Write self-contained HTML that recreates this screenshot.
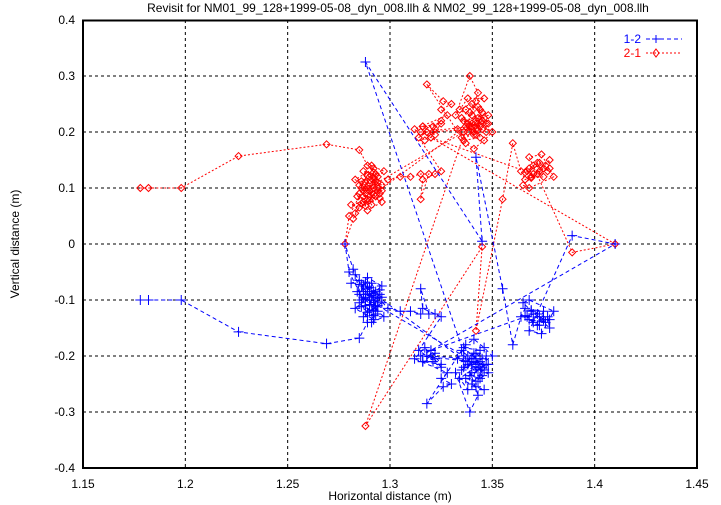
<!DOCTYPE html>
<html><head><meta charset="utf-8">
<style>
body{margin:0;background:#fff;}
svg{display:block;font-family:"Liberation Sans",sans-serif;}
</style></head>
<body>
<svg id="chart" width="721" height="505" viewBox="0 0 721 505">
<text x="398" y="12" text-anchor="middle" font-size="12">Revisit for NM01_99_128+1999-05-08_dyn_008.llh &amp; NM02_99_128+1999-05-08_dyn_008.llh</text>
<text x="390" y="500" text-anchor="middle" font-size="12">Horizontal distance (m)</text>
<text transform="translate(19,244) rotate(-90)" text-anchor="middle" font-size="12">Vertical distance (m)</text>
<g id="grid"></g>
<g id="series21"></g>
<g id="series12"></g>
<rect x="83" y="20.5" width="614" height="447.5" fill="none" stroke="#000" stroke-width="2"/>
<g>
<text x="641" y="43" text-anchor="end" font-size="12" fill="#0000ff">1-2</text>
<line x1="646" y1="39" x2="682" y2="39" stroke="#0000ff" stroke-dasharray="4,3"/>
<path d="M656,35v8M652,39h8" stroke="#0000ff"/>
<text x="641" y="57" text-anchor="end" font-size="12" fill="#ff0000">2-1</text>
<line x1="646" y1="53" x2="682" y2="53" stroke="#ff0000" stroke-dasharray="2,2"/>
<path d="M656,49l3,4l-3,4l-3,-4z" fill="none" stroke="#ff0000"/>
</g>
</svg>
<script>
const xTicks=[1.15,1.2,1.25,1.3,1.35,1.4,1.45];
const xTickLabels=["1.15","1.2","1.25","1.3","1.35","1.4","1.45"];
const yTicks=[0.4,0.3,0.2,0.1,0,-0.1,-0.2,-0.3,-0.4];
const yTickLabels=["0.4","0.3","0.2","0.1","0","-0.1","-0.2","-0.3","-0.4"];
const x12=[1.178,1.182,1.198,1.226,1.269,1.285,1.289,1.283,1.285,1.281,1.287,1.284,1.289,1.291,1.293,1.290,1.286,1.292,1.295,1.288,1.294,1.29,1.296,1.287,1.293,1.291,1.297,1.285,1.289,1.296,1.283,1.292,1.280,1.278,1.282,1.288,1.294,1.299,1.305,1.310,1.315,1.319,1.315,1.316,1.322,1.325,1.314,1.318,1.322,1.316,1.321,1.325,1.317,1.312,1.328,1.325,1.33,1.326,1.318,1.335,1.338,1.342,1.345,1.34,1.336,1.343,1.347,1.339,1.344,1.348,1.333,1.337,1.341,1.346,1.35,1.334,1.342,1.346,1.338,1.332,1.339,1.343,1.288,1.345,1.342,1.355,1.36,1.364,1.366,1.369,1.372,1.375,1.37,1.367,1.373,1.377,1.378,1.365,1.368,1.38,1.374,1.368,1.389,1.41,1.32,1.315,1.34,1.345,1.341,1.337,
1.286,1.29,1.292,1.288,1.294,1.29,1.286,1.292,1.295,1.287,1.291,1.293,1.289,1.285,1.296,1.288,1.292,1.29,1.294,1.287,
1.336,1.34,1.344,1.338,1.342,1.346,1.34,1.337,1.343,1.347,1.335,1.341,1.345,1.339,1.343,1.348,1.34,1.344,1.336,1.342,
1.318,1.322,1.316,1.325,1.32,
1.37,1.373,1.376,1.368,1.372,1.375,1.369,1.378,1.366];
const y12=[-0.1,-0.1,-0.1,-0.157,-0.178,-0.168,-0.14,-0.055,-0.065,-0.07,-0.075,-0.085,-0.08,-0.07,-0.085,-0.095,-0.1,-0.1,-0.09,-0.11,-0.11,-0.12,-0.105,-0.13,-0.125,-0.14,-0.13,-0.09,-0.06,-0.075,-0.115,-0.135,-0.05,0,-0.045,-0.09,-0.095,-0.115,-0.12,-0.12,-0.125,-0.125,-0.08,-0.115,-0.125,-0.13,-0.19,-0.2,-0.195,-0.21,-0.21,-0.22,-0.185,-0.205,-0.23,-0.24,-0.25,-0.255,-0.285,-0.19,-0.2,-0.195,-0.205,-0.215,-0.22,-0.225,-0.215,-0.235,-0.24,-0.23,-0.205,-0.18,-0.17,-0.185,-0.2,-0.24,-0.255,-0.26,-0.26,-0.23,-0.3,-0.27,0.325,0.005,0.155,-0.08,-0.18,-0.13,-0.115,-0.12,-0.125,-0.135,-0.14,-0.13,-0.145,-0.13,-0.15,-0.105,-0.1,-0.12,-0.16,-0.155,0.015,0,-0.19,-0.2,-0.21,-0.22,-0.2,-0.21,
-0.072,-0.078,-0.088,-0.098,-0.102,-0.108,-0.112,-0.118,-0.082,-0.085,-0.092,-0.112,-0.122,-0.105,-0.095,-0.068,-0.128,-0.085,-0.12,-0.095,
-0.2,-0.205,-0.21,-0.215,-0.22,-0.225,-0.23,-0.24,-0.245,-0.2,-0.225,-0.195,-0.235,-0.21,-0.215,-0.215,-0.25,-0.19,-0.185,-0.205,
-0.2,-0.205,-0.21,-0.215,-0.19,
-0.125,-0.13,-0.14,-0.135,-0.145,-0.12,-0.118,-0.135,-0.128];
const x21=[1.178,1.182,1.198,1.226,1.269,1.285,1.289,1.283,1.285,1.281,1.287,1.284,1.289,1.291,1.293,1.290,1.286,1.292,1.295,1.288,1.294,1.29,1.296,1.287,1.293,1.291,1.297,1.285,1.289,1.296,1.283,1.292,1.280,1.278,1.282,1.288,1.294,1.299,1.305,1.310,1.315,1.319,1.315,1.316,1.322,1.325,1.314,1.318,1.322,1.316,1.321,1.325,1.317,1.312,1.328,1.325,1.33,1.326,1.318,1.335,1.338,1.342,1.345,1.34,1.336,1.343,1.347,1.339,1.344,1.348,1.333,1.337,1.341,1.346,1.35,1.334,1.342,1.346,1.338,1.332,1.339,1.343,1.288,1.345,1.342,1.355,1.36,1.364,1.366,1.369,1.372,1.375,1.37,1.367,1.373,1.377,1.378,1.365,1.368,1.38,1.374,1.368,1.389,1.41,1.32,1.315,1.34,1.345,1.341,1.337,
1.286,1.29,1.292,1.288,1.294,1.29,1.286,1.292,1.295,1.287,1.291,1.293,1.289,1.285,1.296,1.288,1.292,1.29,1.294,1.287,
1.336,1.34,1.344,1.338,1.342,1.346,1.34,1.337,1.343,1.347,1.335,1.341,1.345,1.339,1.343,1.348,1.34,1.344,1.336,1.342,
1.318,1.322,1.316,1.325,1.32,
1.37,1.373,1.376,1.368,1.372,1.375,1.369,1.378,1.366];
const y21=[0.1,0.1,0.1,0.157,0.178,0.168,0.14,0.055,0.065,0.07,0.075,0.085,0.08,0.07,0.085,0.095,0.1,0.1,0.09,0.11,0.11,0.12,0.105,0.13,0.125,0.14,0.13,0.09,0.06,0.075,0.115,0.135,0.05,0,0.045,0.09,0.095,0.115,0.12,0.12,0.125,0.125,0.08,0.115,0.125,0.13,0.19,0.2,0.195,0.21,0.21,0.22,0.185,0.205,0.23,0.24,0.25,0.255,0.285,0.19,0.2,0.195,0.205,0.215,0.22,0.225,0.215,0.235,0.24,0.23,0.205,0.18,0.17,0.185,0.2,0.24,0.255,0.26,0.26,0.23,0.3,0.27,-0.325,-0.005,-0.155,0.08,0.18,0.13,0.115,0.12,0.125,0.135,0.14,0.13,0.145,0.13,0.15,0.105,0.1,0.12,0.16,0.155,-0.015,0,0.19,0.2,0.21,0.22,0.2,0.21,
0.072,0.078,0.088,0.098,0.102,0.108,0.112,0.118,0.082,0.085,0.092,0.112,0.122,0.105,0.095,0.068,0.128,0.085,0.12,0.095,
0.2,0.205,0.21,0.215,0.22,0.225,0.23,0.24,0.245,0.2,0.225,0.195,0.235,0.21,0.215,0.215,0.25,0.19,0.185,0.205,
0.2,0.205,0.21,0.215,0.19,
0.125,0.13,0.14,0.135,0.145,0.12,0.118,0.135,0.128];

const NS='http://www.w3.org/2000/svg';
const L=83,R=697,T=20,B=468;
function sx(v){return L+(v-1.15)/(1.45-1.15)*(R-L);}
function sy(v){return B-(v+0.4)/0.8*(B-T);}
function mk(tag,attrs,parent){const e=document.createElementNS(NS,tag);for(const k in attrs)e.setAttribute(k,attrs[k]);parent.appendChild(e);return e;}
const grid=document.getElementById('grid');
const svg=document.getElementById('chart');
xTicks.forEach((t,i)=>{
  const x=sx(t);
  if(i>0&&i<xTicks.length-1){
    const g=mk('line',{x1:x,y1:T,x2:x,y2:B,stroke:'#000','stroke-dasharray':'3,3','stroke-width':1},grid);
    
    
  }
  const tx=mk('text',{x:x,y:488,'text-anchor':'middle','font-size':12},svg);
  tx.textContent=xTickLabels[i];
  
  
});
yTicks.forEach((t,i)=>{
  const y=sy(t);
  if(i>0&&i<yTicks.length-1){
    const g=mk('line',{x1:L,y1:y,x2:R,y2:y,stroke:'#000','stroke-dasharray':'3,3','stroke-width':1},grid);
    
    
  }
  const tx=mk('text',{x:75,y:y+4,'text-anchor':'end','font-size':12},svg);
  tx.textContent=yTickLabels[i];
  
  
});
function drawSeries(xs,ys,gid,color,dash,marker,name){
  const g=document.getElementById(gid);
  
  
  const pts=xs.map((v,i)=>sx(v).toFixed(1)+','+sy(ys[i]).toFixed(1)).join(' ');
  const pl=mk('polyline',{points:pts,fill:'none',stroke:color,'stroke-width':1,'stroke-dasharray':dash},g);
  
  
  xs.forEach((v,i)=>{
    const x=sx(v),y=sy(ys[i]);
    let d;
    if(marker==='plus') d=`M${x-5},${y}h10M${x},${y-5}v10`;
    else d=`M${x},${y-3.5}l3.5,3.5l-3.5,3.5l-3.5,-3.5z`;
    const p=mk('path',{d:d,fill:'none',stroke:color,'stroke-width':1},g);
    
    
  });
}
drawSeries(x21,y21,'series21','#ff0000','2,2','diamond','series-2-1');
drawSeries(x12,y12,'series12','#0000ff','4,3','plus','series-1-2');
</script>
</body></html>
